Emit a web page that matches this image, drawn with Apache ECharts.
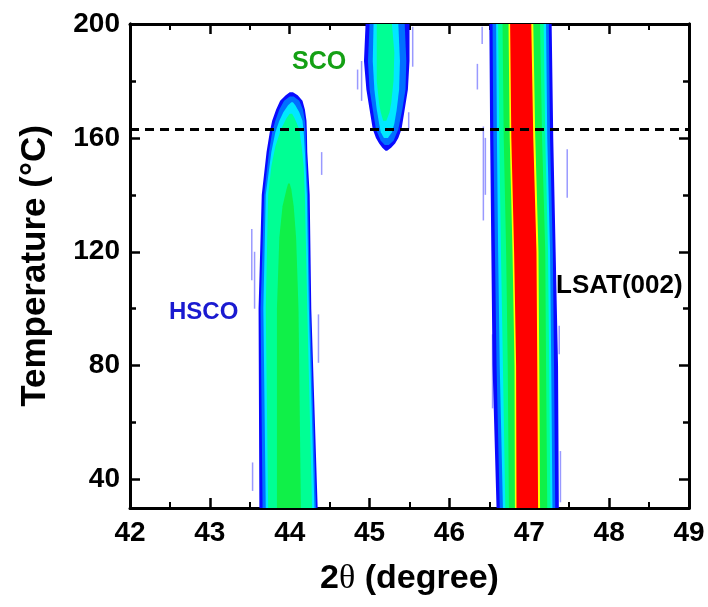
<!DOCTYPE html>
<html>
<head>
<meta charset="utf-8">
<script src="https://cdn.jsdelivr.net/npm/echarts@6/dist/echarts.min.js"></script>
<style>html,body{margin:0;padding:0;background:#fff;}#c{width:708px;height:607px;}</style>
</head>
<body>
<div id="c"></div>
<script>
// ---- axis ticks ----
const xRange = [42, 49];
const yRange = [30, 200];
const yLabelTicks = [40, 80, 120, 160, 200];
const yMinorTicks = [60, 100, 140, 180];
const transitionT = 163;

// ---- contour levels: rows of [temperature, left 2theta, right 2theta] ----
// HSCO peak (~44.0 deg)
const hscoBlue   = [[30, 43.62, 44.35], [100, 43.61, 44.27], [140, 43.65, 44.25], [155, 43.71, 44.22], [162, 43.75, 44.215], [166, 43.78, 44.21], [170, 43.83, 44.19], [173, 43.88, 44.16], [175, 43.95, 44.10], [176, 44.0, 44.04]];
const hscoAzure  = [[30, 43.66, 44.33], [100, 43.635, 44.255], [140, 43.68, 44.23], [155, 43.74, 44.205], [162, 43.78, 44.20], [166, 43.82, 44.19], [170, 43.87, 44.165], [173, 43.93, 44.12], [174.5, 44.0, 44.05]];
const hscoCyan   = [[30, 43.70, 44.31], [100, 43.67, 44.24], [140, 43.70, 44.215], [155, 43.77, 44.19], [162, 43.82, 44.175], [166, 43.87, 44.16], [169, 43.92, 44.12], [171.5, 43.98, 44.07], [172.5, 44.02, 44.04]];
const hscoSpring = [[30, 43.73, 44.28], [100, 43.70, 44.22], [140, 43.73, 44.19], [150, 43.77, 44.175], [157, 43.82, 44.15], [163, 43.89, 44.12], [167, 43.96, 44.06], [168.5, 44.0, 44.03]];
const hscoGreen  = [[30, 43.84, 44.14], [100, 43.84, 44.11], [125, 43.87, 44.08], [136, 43.91, 44.05], [142, 43.96, 44.02], [144, 43.98, 44.0]];
// SCO peak (~45.2 deg)
const scoBlue   = [[155.5, 45.20, 45.22], [156.5, 45.16, 45.27], [158, 45.12, 45.32], [160, 45.08, 45.36], [163, 45.04, 45.40], [170, 45.0, 45.44], [177, 44.96, 45.48], [187, 44.93, 45.50], [200, 44.95, 45.50]];
const scoAzure  = [[157.5, 45.19, 45.24], [159, 45.14, 45.30], [163, 45.08, 45.36], [170, 45.04, 45.41], [177, 45.0, 45.45], [187, 44.98, 45.46], [200, 45.0, 45.44]];
const scoCyan   = [[160, 45.18, 45.23], [162, 45.14, 45.28], [165, 45.12, 45.31], [170, 45.09, 45.34], [177, 45.06, 45.37], [187, 45.04, 45.38], [200, 45.05, 45.36]];
const scoSpring = [[166, 45.17, 45.21], [169, 45.14, 45.25], [172, 45.12, 45.27], [180, 45.09, 45.30], [190, 45.09, 45.31], [200, 45.09, 45.28]];
// LSAT(002) substrate peak (~47.0 deg)
const lsatBlue   = [[30, 46.59, 47.37], [80, 46.54, 47.36], [120, 46.525, 47.33], [160, 46.51, 47.30], [200, 46.50, 47.28]];
const lsatAzure  = [[30, 46.63, 47.325], [80, 46.59, 47.31], [120, 46.57, 47.295], [160, 46.55, 47.26], [200, 46.54, 47.245]];
const lsatCyan   = [[30, 46.67, 47.29], [80, 46.63, 47.275], [120, 46.61, 47.26], [160, 46.595, 47.225], [200, 46.585, 47.21]];
const lsatSpring = [[30, 46.70, 47.265], [80, 46.67, 47.25], [120, 46.645, 47.235], [160, 46.625, 47.20], [200, 46.61, 47.18]];
const lsatGreen  = [[30, 46.745, 47.225], [80, 46.73, 47.21], [120, 46.71, 47.20], [160, 46.68, 47.16], [200, 46.665, 47.135]];
const lsatYellow = [[30, 46.82, 47.135], [80, 46.815, 47.125], [120, 46.79, 47.115], [160, 46.755, 47.075], [200, 46.74, 47.05]];
const lsatRed    = [[30, 46.84, 47.11], [80, 46.835, 47.10], [120, 46.81, 47.09], [160, 46.775, 47.05], [200, 46.76, 47.025]];

// faint noise streaks: [2theta, T start, T end]
const streaks = [
  [43.525, 110, 128], [43.56, 100, 120], [43.535, 36, 46], [44.40, 147, 155], [44.36, 81, 98],
  [44.85, 177, 184], [44.90, 173, 187], [45.54, 185, 199], [45.49, 163, 169],
  [46.35, 177, 186], [46.41, 193, 199], [46.425, 131, 164], [46.45, 140, 160], [46.54, 65, 91],
  [47.475, 139, 156], [47.375, 84, 94], [47.39, 32, 50]
];

const palette = { blue: '#0a0aff', azure: '#0070ff', cyan: '#00e8ff', spring: '#00ff94', green: '#10f048', yellow: '#ffff00', red: '#ff0000' };

const contours = [
  { rows: hscoBlue, c: 'blue' }, { rows: hscoAzure, c: 'azure' }, { rows: hscoCyan, c: 'cyan' },
  { rows: hscoSpring, c: 'spring' }, { rows: hscoGreen, c: 'green' },
  { rows: scoBlue, c: 'blue' }, { rows: scoAzure, c: 'azure' }, { rows: scoCyan, c: 'cyan' }, { rows: scoSpring, c: 'spring' },
  { rows: lsatBlue, c: 'blue' }, { rows: lsatAzure, c: 'azure' }, { rows: lsatCyan, c: 'cyan' },
  { rows: lsatSpring, c: 'spring' }, { rows: lsatGreen, c: 'green' }, { rows: lsatYellow, c: 'yellow' }, { rows: lsatRed, c: 'red' }
];

const FONT = "'Liberation Sans', Arial, sans-serif";

const chart = echarts.init(document.getElementById('c'), null, { renderer: 'canvas' });

function baseX(pos, showLabel) {
  return {
    type: 'value', position: pos, min: xRange[0], max: xRange[1], interval: 1,
    axisLine: { show: true, onZero: false, lineStyle: { color: '#000', width: 3 } },
    axisTick: { show: true, inside: true, length: 10, lineStyle: { color: '#000', width: 2.5 } },
    minorTick: { show: true, splitNumber: 2, length: 6, lineStyle: { color: '#000', width: 2 } },
    splitLine: { show: false }, minorSplitLine: { show: false },
    axisLabel: { show: showLabel, color: '#000', fontFamily: FONT, fontWeight: 'bold', fontSize: 28, margin: 11 }
  };
}
function baseY(pos, ticks, len, showLabel) {
  return {
    type: 'value', position: pos, min: yRange[0], max: yRange[1],
    axisLine: { show: true, onZero: false, lineStyle: { color: '#000', width: 3 } },
    axisTick: { show: true, inside: true, length: len, customValues: ticks, lineStyle: { color: '#000', width: 2.5 } },
    splitLine: { show: false },
    axisLabel: { show: showLabel, customValues: ticks, color: '#000', fontFamily: FONT, fontWeight: 'bold', fontSize: 28, margin: 10 }
  };
}

const xMain = baseX('bottom', true);
xMain.name = '2{th|θ} (degree)';
xMain.nameLocation = 'middle';
xMain.nameGap = 54;
xMain.nameTextStyle = { color: '#000', fontFamily: FONT, fontWeight: 'bold', fontSize: 34,
  rich: { th: { fontFamily: "'Liberation Serif', 'DejaVu Serif', serif", fontSize: 34, fontWeight: 'normal', color: '#000' } } };

const yMain = baseY('left', yLabelTicks, 10, true);
yMain.name = 'Temperature (°C)';
yMain.nameLocation = 'middle';
yMain.nameGap = 77;
yMain.nameTextStyle = { color: '#000', fontFamily: FONT, fontWeight: 'bold', fontSize: 35 };

chart.setOption({
  animation: false,
  backgroundColor: '#fff',
  grid: { left: 130, right: 19, top: 24, bottom: 99, containLabel: false },
  xAxis: [xMain, baseX('top', false)],
  yAxis: [yMain, baseY('left', yMinorTicks, 6, false), baseY('right', yLabelTicks, 10, false), baseY('right', yMinorTicks, 6, false)],
  series: [
    {
      type: 'custom', xAxisIndex: 0, yAxisIndex: 0, clip: true, silent: true, z: 2,
      data: streaks,
      renderItem: function (params, api) {
        const p0 = api.coord([api.value(0), api.value(1)]);
        const p1 = api.coord([api.value(0), api.value(2)]);
        return { type: 'line', shape: { x1: p0[0], y1: p0[1], x2: p1[0], y2: p1[1] }, style: { stroke: 'rgba(70,70,255,0.55)', lineWidth: 1.5 } };
      }
    },
    {
      type: 'custom', xAxisIndex: 0, yAxisIndex: 0, clip: true, silent: true, z: 3,
      data: contours.map(function (c, i) { return [c.rows[0][1], c.rows[0][0], i]; }),
      renderItem: function (params, api) {
        const ct = contours[api.value(2)];
        const pts = [];
        ct.rows.forEach(function (r) { pts.push(api.coord([r[1], r[0]])); });
        for (let i = ct.rows.length - 1; i >= 0; i--) pts.push(api.coord([ct.rows[i][2], ct.rows[i][0]]));
        return { type: 'polygon', shape: { points: pts }, style: { fill: palette[ct.c] } };
      },
      markLine: {
        silent: true, symbol: 'none', label: { show: false },
        lineStyle: { color: '#000', width: 3, type: [9, 6] },
        data: [{ yAxis: transitionT }]
      }
    }
  ],
  graphic: [
    { type: 'text', left: 292, top: 50, style: { text: 'SCO', fill: '#14a014', font: "bold 25px " + FONT } },
    { type: 'text', left: 169, top: 300, style: { text: 'HSCO', fill: '#1a1ad0', font: "bold 24px " + FONT } },
    { type: 'text', left: 556, top: 273, style: { text: 'LSAT(002)', fill: '#000', font: "bold 26px " + FONT } }
  ]
});
</script>
</body>
</html>
